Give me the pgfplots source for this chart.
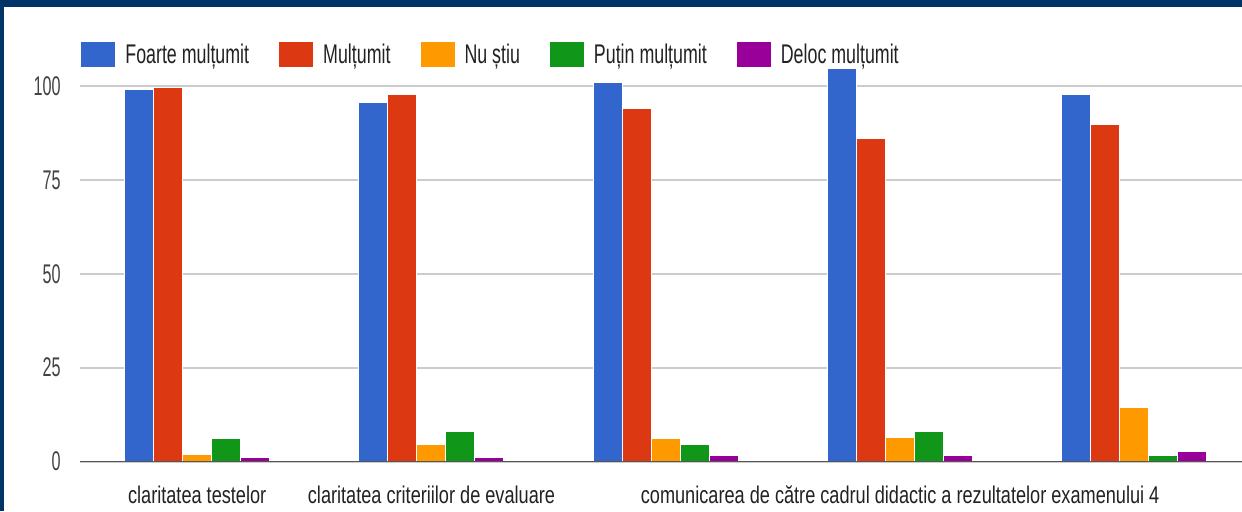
\documentclass[border=0pt]{standalone}
\usepackage{fontspec}
\setmainfont{Liberation Sans}[FakeStretch=0.66]
\newfontfamily\xlabfont{Liberation Sans}[FakeStretch=0.75]
\newfontfamily\ytickfont{Liberation Sans}[FakeStretch=0.6]
\usepackage{pgfplots}
\pgfplotsset{compat=1.18}

\definecolor{gblue}{HTML}{3366CC}
\definecolor{gred}{HTML}{DC3912}
\definecolor{gorange}{HTML}{FF9900}
\definecolor{ggreen}{HTML}{109618}
\definecolor{gpurple}{HTML}{990099}
\definecolor{frame}{HTML}{003366}
\definecolor{gridgray}{HTML}{CCCCCC}
\definecolor{basegray}{HTML}{555555}
\definecolor{txt}{HTML}{222222}

\begin{document}
\begin{tikzpicture}
\path[use as bounding box] (0,0) rectangle (621pt,255.5pt);
\fill[frame] (0,0) rectangle (621pt,255.5pt);
\fill[white] (2pt,0) rectangle (621pt,252pt);
\begin{scope}
\clip (0,0) rectangle (621pt,255.5pt);
\begin{axis}[
    at={(40pt,24.75pt)}, anchor=south west,
    scale only axis, width=581pt, height=200.75pt,
    xmin=-0.5, xmax=4.459, ymin=0, ymax=107,
    ybar=0pt, bar width=14.5pt,
    axis line style={draw=none},
    major tick length=0pt,
    ytick={0,25,50,75,100},
    ymajorgrids, grid style={draw=gridgray, line width=1pt},
    xtick={0,1,3},
    xticklabels={claritatea testelor, claritatea criteriilor de evaluare,
        comunicarea de către cadrul didactic a rezultatelor examenului 4},
    /pgf/number format/assume math mode=true,
    yticklabel style={font=\ytickfont\fontsize{13.5}{15}\selectfont, text=txt!85,
        anchor=east, inner sep=0pt, xshift=-9.5pt},
    xticklabel style={font=\xlabfont\fontsize{12.1}{14}\selectfont, text=txt,
        anchor=base, inner sep=0pt, yshift=-20.9pt},
    every axis plot post/.append style={draw=white, line width=0.5pt,
        legend image code/.code={\fill[##1] (0pt,-6.5pt) rectangle (17.5pt,6.5pt);
            \path (22pt,0pt);}},
    legend columns=5,
    legend style={at={(0,1.0125)}, anchor=west, draw=none, fill=none,
        inner sep=0pt, column sep=0pt,
        font=\fontsize{13.5}{15}\selectfont, text=txt,
        nodes={inner sep=0pt, anchor=west},
        /tikz/every even column/.append style={column sep=14.5pt}},
]
\addplot[fill=gblue] coordinates {(0,99.1) (1,95.8) (2,101) (3,104.7) (4,97.9)};
\addplot[fill=gred] coordinates {(0,99.6) (1,97.7) (2,94.2) (3,86) (4,89.8)};
\addplot[fill=gorange] coordinates {(0,1.8) (1,4.6) (2,6) (3,6.5) (4,14.5)};
\addplot[fill=ggreen] coordinates {(0,6) (1,7.9) (2,4.6) (3,7.9) (4,1.7)};
\addplot[fill=gpurple] coordinates {(0,1.1) (1,1.1) (2,1.7) (3,1.7) (4,2.8)};
\legend{Foarte mulțumit, Mulțumit, Nu știu, Puțin mulțumit, Deloc mulțumit}
\draw[basegray, line width=1pt] (rel axis cs:0,0) -- (rel axis cs:1,0);
\end{axis}
\end{scope}
\end{tikzpicture}
\end{document}
